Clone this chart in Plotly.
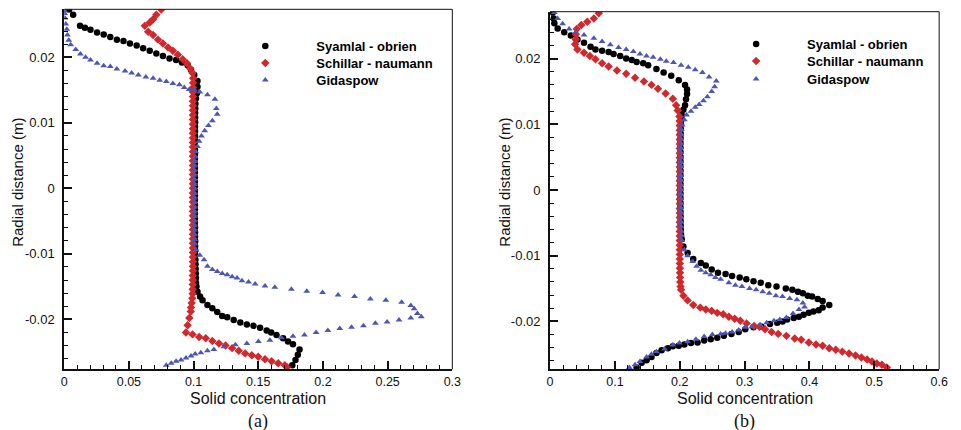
import plotly.graph_objects as go

# ---------------- data: panel (a) ----------------
a_syamlal_x = [0.0038, 0.0069, 0.0122, 0.0160, 0.0203, 0.0254, 0.0305, 0.0356, 0.0407, 0.0458, 0.0508, 0.0560,
               0.0610, 0.0661, 0.0712, 0.0763, 0.0814, 0.0865, 0.0910, 0.0954, 0.0980, 0.1005, 0.1030, 0.1030,
               0.1025, 0.1018,
               0.1014, 0.1013, 0.1012, 0.1012, 0.1012, 0.1011, 0.1011, 0.1011, 0.1010, 0.1010, 0.1010, 0.1010,
               0.1010, 0.1010, 0.1010, 0.1010, 0.1010, 0.1010, 0.1010, 0.1010, 0.1010, 0.1010, 0.1010, 0.1010,
               0.1010, 0.1010, 0.1010, 0.1011, 0.1011, 0.1011, 0.1012, 0.1012, 0.1013, 0.1013, 0.1014, 0.1015,
               0.1016, 0.1017, 0.1018, 0.1019,
               0.1022, 0.1030, 0.1050, 0.1069, 0.1107, 0.1145, 0.1183, 0.1221, 0.1260, 0.1310, 0.1361, 0.1412,
               0.1463, 0.1514, 0.1565, 0.1600, 0.1641, 0.1692, 0.1730, 0.1768, 0.1819, 0.1806, 0.1788, 0.1763]
a_syamlal_y = [0.0273, 0.0265, 0.0248, 0.0245, 0.0242, 0.0238, 0.0235, 0.0231, 0.0227, 0.0225, 0.0221, 0.0218,
               0.0214, 0.0210, 0.0206, 0.0202, 0.0198, 0.0196, 0.0192, 0.0188, 0.0181, 0.0173, 0.0164, 0.0155,
               0.0145, 0.0137,
               0.0129, 0.0122, 0.0115, 0.0108, 0.0101, 0.0094, 0.0087, 0.0080, 0.0073, 0.0066, 0.0059, 0.0052,
               0.0045, 0.0038, 0.0031, 0.0024, 0.0017, 0.0010, 0.0003, -0.0004, -0.0011, -0.0018, -0.0025, -0.0032,
               -0.0039, -0.0046, -0.0053, -0.0060, -0.0067, -0.0074, -0.0081, -0.0088, -0.0095, -0.0102, -0.0109, -0.0116,
               -0.0123, -0.0130, -0.0137, -0.0144,
               -0.0150, -0.0158, -0.0165, -0.0171, -0.0178, -0.0183, -0.0189, -0.0195, -0.0197, -0.0201, -0.0205, -0.0208,
               -0.0210, -0.0213, -0.0217, -0.0220, -0.0224, -0.0229, -0.0234, -0.0238, -0.0246, -0.0254, -0.0262, -0.0270]

a_schillar_x = [0.0750, 0.0712, 0.0687, 0.0661, 0.0623, 0.0649, 0.0687, 0.0725, 0.0763, 0.0802, 0.0840, 0.0878,
                0.0916, 0.0949, 0.0974, 0.0992, 0.0997,
                0.0996, 0.0996, 0.0995, 0.0995, 0.0995, 0.0995, 0.0995, 0.0995, 0.0995, 0.0995, 0.0995, 0.0995,
                0.0995, 0.0995, 0.0995, 0.0995, 0.0995, 0.0995, 0.0995, 0.0995, 0.0995, 0.0995, 0.0995, 0.0995,
                0.0995, 0.0995, 0.0995, 0.0995, 0.0995, 0.0995, 0.0995, 0.0995, 0.0995, 0.0995, 0.0995, 0.0995,
                0.0995, 0.0995, 0.0995, 0.0995, 0.0995, 0.0995, 0.0994, 0.0994, 0.0993, 0.0993, 0.0992,
                0.0990, 0.0985, 0.0980, 0.0978, 0.0967, 0.0954, 0.0941, 0.0992, 0.1043, 0.1094, 0.1145, 0.1196,
                0.1247, 0.1298, 0.1349, 0.1399, 0.1450, 0.1500, 0.1552, 0.1603, 0.1654, 0.1705, 0.1722]
a_schillar_y = [0.0273, 0.0265, 0.0258, 0.0253, 0.0248, 0.0239, 0.0234, 0.0227, 0.0221, 0.0215, 0.0210, 0.0204,
                0.0197, 0.0191, 0.0183, 0.0176, 0.0168,
                0.0161, 0.0154, 0.0147, 0.0140, 0.0133, 0.0126, 0.0119, 0.0112, 0.0105, 0.0098, 0.0091, 0.0084,
                0.0077, 0.0070, 0.0063, 0.0056, 0.0049, 0.0042, 0.0035, 0.0028, 0.0021, 0.0014, 0.0007, 0.0000,
                -0.0007, -0.0014, -0.0021, -0.0028, -0.0035, -0.0042, -0.0049, -0.0056, -0.0063, -0.0070, -0.0077, -0.0084,
                -0.0091, -0.0098, -0.0105, -0.0112, -0.0119, -0.0126, -0.0133, -0.0140, -0.0147, -0.0154, -0.0161,
                -0.0168, -0.0175, -0.0182, -0.0188, -0.0198, -0.0209, -0.0220, -0.0223, -0.0227, -0.0229, -0.0233, -0.0237,
                -0.0240, -0.0244, -0.0248, -0.0252, -0.0255, -0.0257, -0.0261, -0.0264, -0.0267, -0.0270, -0.0273]

a_gidaspow_x = [0.0002, 0.0003, 0.0005, 0.0012, 0.0020, 0.0025, 0.0035, 0.0050, 0.0089, 0.0125, 0.0165, 0.0203,
                0.0254, 0.0305, 0.0356, 0.0407, 0.0470, 0.0521, 0.0573, 0.0631, 0.0687, 0.0738, 0.0789, 0.0840,
                0.0890, 0.0928, 0.0966, 0.1005, 0.1048, 0.1107, 0.1165, 0.1176, 0.1183, 0.1145, 0.1115, 0.1086,
                0.1061, 0.1043, 0.1030, 0.1017, 0.1012,
                0.1008, 0.1006, 0.1005, 0.1005, 0.1005, 0.1005, 0.1005, 0.1005, 0.1005, 0.1005, 0.1005, 0.1005,
                0.1005, 0.1005, 0.1005, 0.1005, 0.1006, 0.1007, 0.1009,
                0.1017, 0.1048, 0.1081, 0.1107, 0.1145, 0.1183, 0.1221, 0.1260, 0.1298, 0.1336, 0.1374, 0.1425,
                0.1476, 0.1552, 0.1628, 0.1756, 0.1875, 0.1997, 0.2117, 0.2244, 0.2366, 0.2486, 0.2608, 0.2679,
                0.2705, 0.2730, 0.2760, 0.2679, 0.2588, 0.2496, 0.2405, 0.2313, 0.2221, 0.2130, 0.2038, 0.1947,
                0.1857, 0.1768, 0.1679, 0.1590, 0.1501, 0.1412, 0.1323, 0.1234, 0.1157, 0.1107, 0.1056, 0.1012,
                0.0980, 0.0941, 0.0903, 0.0865, 0.0827, 0.0789]
a_gidaspow_y = [0.0271, 0.0267, 0.0260, 0.0251, 0.0243, 0.0234, 0.0226, 0.0219, 0.0212, 0.0205, 0.0200, 0.0196,
                0.0191, 0.0187, 0.0186, 0.0182, 0.0179, 0.0176, 0.0173, 0.0170, 0.0168, 0.0165, 0.0163, 0.0160,
                0.0158, 0.0154, 0.0151, 0.0150, 0.0147, 0.0143, 0.0136, 0.0122, 0.0113, 0.0103, 0.0096, 0.0088,
                0.0080, 0.0072, 0.0064, 0.0056, 0.0048,
                0.0041, 0.0034, 0.0027, 0.0020, 0.0013, 0.0006, -0.0001, -0.0008, -0.0015, -0.0022, -0.0029, -0.0036,
                -0.0043, -0.0050, -0.0057, -0.0064, -0.0071, -0.0078, -0.0085,
                -0.0094, -0.0102, -0.0109, -0.0119, -0.0124, -0.0127, -0.0130, -0.0132, -0.0135, -0.0137, -0.0141, -0.0143,
                -0.0146, -0.0149, -0.0151, -0.0154, -0.0157, -0.0159, -0.0163, -0.0165, -0.0169, -0.0171, -0.0174, -0.0179,
                -0.0184, -0.0191, -0.0196, -0.0198, -0.0201, -0.0204, -0.0206, -0.0210, -0.0212, -0.0214, -0.0217, -0.0220,
                -0.0224, -0.0226, -0.0228, -0.0232, -0.0234, -0.0237, -0.0239, -0.0242, -0.0246, -0.0248, -0.0251, -0.0253,
                -0.0256, -0.0259, -0.0262, -0.0264, -0.0267, -0.0270]

# ---------------- data: panel (b) ----------------
b_syamlal_x = [0.0041, 0.0056, 0.0066, 0.0117, 0.0218, 0.0320, 0.0422, 0.0523, 0.0624, 0.0700, 0.0802, 0.0903,
               0.0979, 0.1081, 0.1173, 0.1259, 0.1335, 0.1436, 0.1512, 0.1640, 0.1751, 0.1868, 0.1984, 0.2081,
               0.2112, 0.2112, 0.2096, 0.2081, 0.2056, 0.2030, 0.2025,
               0.2018, 0.2015, 0.2013, 0.2012, 0.2011, 0.2010, 0.2010, 0.2010, 0.2010, 0.2010, 0.2010, 0.2010,
               0.2010, 0.2010, 0.2010, 0.2010, 0.2010, 0.2010, 0.2010, 0.2011, 0.2012, 0.2013, 0.2014, 0.2016,
               0.2020, 0.2030,
               0.2056, 0.2121, 0.2208, 0.2325, 0.2401, 0.2492, 0.2589, 0.2706, 0.2807, 0.2924, 0.3026, 0.3137,
               0.3249, 0.3365, 0.3492, 0.3635, 0.3736, 0.3822, 0.3898, 0.3974, 0.4040, 0.4127, 0.4203, 0.4305,
               0.4203, 0.4142, 0.4061, 0.3990, 0.3909, 0.3837, 0.3757, 0.3655, 0.3584, 0.3503, 0.3391, 0.3263,
               0.3137, 0.3010, 0.2909, 0.2797, 0.2680, 0.2578, 0.2477, 0.2376, 0.2274, 0.2173, 0.2071, 0.1984,
               0.1893, 0.1817, 0.1720, 0.1640, 0.1564, 0.1488, 0.1412, 0.1335]
b_syamlal_y = [0.0270, 0.0261, 0.0254, 0.0246, 0.0240, 0.0235, 0.0229, 0.0224, 0.0218, 0.0214, 0.0212, 0.0210,
               0.0207, 0.0204, 0.0200, 0.0198, 0.0195, 0.0193, 0.0190, 0.0184, 0.0179, 0.0174, 0.0167, 0.0160,
               0.0153, 0.0146, 0.0138, 0.0129, 0.0122, 0.0114, 0.0107,
               0.0100, 0.0093, 0.0086, 0.0079, 0.0072, 0.0065, 0.0058, 0.0051, 0.0044, 0.0037, 0.0030, 0.0023,
               0.0016, 0.0009, 0.0002, -0.0005, -0.0012, -0.0019, -0.0026, -0.0033, -0.0040, -0.0047, -0.0054, -0.0061,
               -0.0068, -0.0075,
               -0.0086, -0.0096, -0.0105, -0.0111, -0.0115, -0.0121, -0.0126, -0.0128, -0.0131, -0.0133, -0.0136, -0.0139,
               -0.0141, -0.0145, -0.0147, -0.0150, -0.0152, -0.0155, -0.0157, -0.0161, -0.0162, -0.0166, -0.0169, -0.0175,
               -0.0179, -0.0183, -0.0185, -0.0187, -0.0190, -0.0193, -0.0195, -0.0197, -0.0200, -0.0202, -0.0204, -0.0208,
               -0.0209, -0.0212, -0.0216, -0.0219, -0.0222, -0.0225, -0.0227, -0.0229, -0.0232, -0.0233, -0.0235, -0.0237,
               -0.0238, -0.0241, -0.0244, -0.0248, -0.0254, -0.0259, -0.0263, -0.0270]

b_schillar_x = [0.0751, 0.0675, 0.0574, 0.0482, 0.0411, 0.0396, 0.0396, 0.0386, 0.0422, 0.0523, 0.0614, 0.0700,
                0.0802, 0.0903, 0.1031, 0.1173, 0.1310, 0.1447, 0.1564, 0.1664, 0.1782, 0.1893, 0.1944, 0.1969,
                0.1995,
                0.1998, 0.1999, 0.2000, 0.2000, 0.2000, 0.2000, 0.2000, 0.2000, 0.2000, 0.2000, 0.2000, 0.2000,
                0.2000, 0.2000, 0.2000, 0.2000, 0.2000, 0.2000, 0.2000, 0.2000, 0.2000, 0.2000, 0.2000, 0.2000,
                0.2000, 0.2000, 0.2000, 0.2000, 0.2000, 0.2000, 0.2000, 0.2001, 0.2002, 0.2003, 0.2005, 0.2008,
                0.2012,
                0.2020, 0.2056, 0.2121, 0.2208, 0.2315, 0.2401, 0.2492, 0.2578, 0.2669, 0.2756, 0.2847, 0.2934,
                0.3030, 0.3147, 0.3228, 0.3315, 0.3416, 0.3518, 0.3644, 0.3772, 0.3873, 0.3990, 0.4101, 0.4203,
                0.4305, 0.4406, 0.4507, 0.4610, 0.4710, 0.4801, 0.4888, 0.4964, 0.5040, 0.5117, 0.5193]
b_schillar_y = [0.0269, 0.0261, 0.0256, 0.0251, 0.0245, 0.0237, 0.0229, 0.0222, 0.0214, 0.0209, 0.0204, 0.0199,
                0.0193, 0.0188, 0.0182, 0.0177, 0.0171, 0.0165, 0.0160, 0.0154, 0.0147, 0.0139, 0.0129, 0.0121,
                0.0112,
                0.0105, 0.0098, 0.0091, 0.0084, 0.0077, 0.0070, 0.0063, 0.0056, 0.0049, 0.0042, 0.0035, 0.0028,
                0.0021, 0.0014, 0.0007, 0.0000, -0.0007, -0.0014, -0.0021, -0.0028, -0.0035, -0.0042, -0.0049, -0.0056,
                -0.0063, -0.0070, -0.0077, -0.0084, -0.0091, -0.0098, -0.0105, -0.0112, -0.0119, -0.0126, -0.0133, -0.0140,
                -0.0147,
                -0.0152, -0.0161, -0.0168, -0.0175, -0.0179, -0.0182, -0.0184, -0.0187, -0.0189, -0.0193, -0.0196, -0.0199,
                -0.0203, -0.0207, -0.0208, -0.0212, -0.0216, -0.0219, -0.0222, -0.0226, -0.0228, -0.0232, -0.0235, -0.0237,
                -0.0241, -0.0243, -0.0246, -0.0249, -0.0252, -0.0255, -0.0258, -0.0261, -0.0264, -0.0266, -0.0270]

b_gidaspow_x = [0.0066, 0.0117, 0.0193, 0.0294, 0.0396, 0.0523, 0.0675, 0.0802, 0.0929, 0.1056, 0.1173, 0.1284,
                0.1386, 0.1487, 0.1589, 0.1700, 0.1792, 0.1903, 0.2020, 0.2132, 0.2238, 0.2350, 0.2452, 0.2563,
                0.2538, 0.2492, 0.2426, 0.2365, 0.2299, 0.2238, 0.2173, 0.2106, 0.2071, 0.2036,
                0.2025, 0.2020, 0.2018, 0.2016, 0.2015, 0.2015, 0.2015, 0.2015, 0.2015, 0.2015, 0.2015, 0.2015,
                0.2015, 0.2015, 0.2015, 0.2015, 0.2015, 0.2015, 0.2015, 0.2016, 0.2017, 0.2018, 0.2020, 0.2024,
                0.2030,
                0.2071, 0.2121, 0.2198, 0.2260, 0.2325, 0.2400, 0.2477, 0.2550, 0.2630, 0.2756, 0.2858, 0.2959,
                0.3076, 0.3178, 0.3279, 0.3380, 0.3482, 0.3584, 0.3695, 0.3807, 0.3898, 0.3924, 0.3837, 0.3746,
                0.3644, 0.3543, 0.3452, 0.3340, 0.3239, 0.3111, 0.3010, 0.2909, 0.2807, 0.2706, 0.2630, 0.2502,
                0.2376, 0.2249, 0.2121, 0.1995, 0.1893, 0.1766, 0.1640, 0.1564, 0.1488, 0.1386, 0.1310, 0.1223]
b_gidaspow_y = [0.0270, 0.0261, 0.0253, 0.0245, 0.0240, 0.0236, 0.0231, 0.0226, 0.0221, 0.0217, 0.0214, 0.0211,
                0.0207, 0.0204, 0.0202, 0.0199, 0.0196, 0.0194, 0.0190, 0.0187, 0.0183, 0.0179, 0.0172, 0.0166,
                0.0157, 0.0150, 0.0142, 0.0136, 0.0130, 0.0126, 0.0120, 0.0114, 0.0107, 0.0099,
                0.0092, 0.0085, 0.0078, 0.0071, 0.0064, 0.0057, 0.0050, 0.0043, 0.0036, 0.0029, 0.0022, 0.0015,
                0.0008, 0.0001, -0.0006, -0.0013, -0.0020, -0.0027, -0.0034, -0.0041, -0.0048, -0.0055, -0.0062, -0.0069,
                -0.0076,
                -0.0091, -0.0100, -0.0109, -0.0116, -0.0122, -0.0126, -0.0129, -0.0133, -0.0136, -0.0141, -0.0145, -0.0147,
                -0.0150, -0.0152, -0.0155, -0.0157, -0.0161, -0.0162, -0.0165, -0.0167, -0.0172, -0.0178, -0.0182, -0.0188,
                -0.0194, -0.0197, -0.0199, -0.0202, -0.0205, -0.0208, -0.0209, -0.0213, -0.0216, -0.0218, -0.0219, -0.0220,
                -0.0223, -0.0227, -0.0231, -0.0233, -0.0236, -0.0242, -0.0246, -0.0250, -0.0254, -0.0261, -0.0266, -0.0270]

series_names = ["Syamlal - obrien", "Schillar - naumann", "Gidaspow"]

# ticks
a_xtick_vals = [0, 0.05, 0.1, 0.15, 0.2, 0.25, 0.3]
a_xtick_text = ["0", "0.05", "0.1", "0.15", "0.2", "0.25", "0.3"]
b_xtick_vals = [0, 0.1, 0.2, 0.3, 0.4, 0.5, 0.6]
b_xtick_text = ["0", "0.1", "0.2", "0.3", "0.4", "0.5", "0.6"]
ytick_vals = [0.02, 0.01, 0, -0.01, -0.02]
ytick_text = ["0.02", "0.01", "0", "-0.01", "-0.02"]

# ---------------- styling ----------------
W, H = 961, 430
colors = ["#000000", "#d0282c", "#4c56b4"]
symbols = ["circle", "diamond", "triangle-up"]
sizes = [6.5, 6.5, 6]
FONT = "Liberation Sans, Arial, sans-serif"

def px_x(p):
    return p / W

def px_y(p):
    return 1 - p / H

fig = go.Figure()

panel_a = [(a_syamlal_x, a_syamlal_y), (a_schillar_x, a_schillar_y), (a_gidaspow_x, a_gidaspow_y)]
panel_b = [(b_syamlal_x, b_syamlal_y), (b_schillar_x, b_schillar_y), (b_gidaspow_x, b_gidaspow_y)]

legend_ids = ["legend", "legend2", "legend3", "legend4", "legend5", "legend6"]

for i, (xs, ys) in enumerate(panel_a):
    fig.add_trace(go.Scatter(x=xs, y=ys, mode="markers", name=series_names[i],
                             marker=dict(color=colors[i], symbol=symbols[i], size=sizes[i], line=dict(width=0)),
                             xaxis="x", yaxis="y", legend=legend_ids[i]))
for i, (xs, ys) in enumerate(panel_b):
    fig.add_trace(go.Scatter(x=xs, y=ys, mode="markers", name=series_names[i],
                             marker=dict(color=colors[i], symbol=symbols[i], size=sizes[i], line=dict(width=0)),
                             xaxis="x2", yaxis="y2", legend=legend_ids[3 + i]))

def xaxis(domain, rng, vals, text, minor_dtick, anchor):
    return dict(domain=domain, range=rng, anchor=anchor, tickvals=vals, ticktext=text,
                ticks="inside", ticklen=8, tickwidth=1.5, tickcolor="#111",
                minor=dict(ticks="inside", ticklen=4, tickwidth=1, tickcolor="#111", dtick=minor_dtick, tick0=0),
                showline=True, linewidth=2, linecolor="#111", showgrid=False, zeroline=False,
                tickfont=dict(family=FONT, size=12.5, color="#111"))

def yaxis(domain, rng, anchor):
    return dict(domain=domain, range=rng, anchor=anchor, tickvals=ytick_vals, ticktext=ytick_text,
                ticks="inside", ticklen=8, tickwidth=1.5, tickcolor="#111",
                minor=dict(ticks="inside", ticklen=4, tickwidth=1, tickcolor="#111", dtick=0.002, tick0=0),
                showline=True, linewidth=2, linecolor="#111", showgrid=False, zeroline=False,
                tickfont=dict(family=FONT, size=13, color="#111"), ticklabelstandoff=5)

ax_a = [px_x(62), px_x(455)]
ax_b = [px_x(554), px_x(948)]
ay_a = [px_y(369.3), px_y(9.3)]
ay_b = [px_y(369.3), px_y(11.7)]

legend_style = dict(font=dict(family=FONT, size=13, color="#000", weight="bold"),
                    bgcolor="rgba(0,0,0,0)", borderwidth=0, itemwidth=92,
                    xanchor="left", yanchor="middle", tracegroupgap=0)

# legend row centres (pixels)
legend_rows_a = [46, 63, 80]
legend_rows_b = [44, 61, 79]
legend_layout = {}
for i in range(3):
    legend_layout[legend_ids[i]] = dict(x=px_x(214), y=px_y(legend_rows_a[i]), **legend_style)
    legend_layout[legend_ids[3 + i]] = dict(x=px_x(711), y=px_y(legend_rows_b[i]), **legend_style)

fig.update_layout(
    width=W, height=H,
    margin=dict(l=0, r=0, t=0, b=0),
    paper_bgcolor="white", plot_bgcolor="white",
    xaxis=xaxis(ax_a, [0, 0.3], a_xtick_vals, a_xtick_text, 0.01, "y"),
    yaxis=yaxis(ay_a, [-0.02763, 0.02733], "x"),
    xaxis2=xaxis(ax_b, [0, 0.6], b_xtick_vals, b_xtick_text, 0.02, "y2"),
    yaxis2=yaxis(ay_b, [-0.02729, 0.02714], "x2"),
    showlegend=True,
    **legend_layout,
)

# top/right frame lines
for xr, yr in [("x domain", "y domain"), ("x2 domain", "y2 domain")]:
    fig.add_shape(type="line", xref=xr, yref=yr, x0=0, x1=1, y0=1, y1=1, line=dict(color="#111", width=1))
    fig.add_shape(type="line", xref=xr, yref=yr, x0=1, x1=1, y0=0, y1=1, line=dict(color="#111", width=1))

# titles
ann = []
for cx in [258.5, 751]:
    ann.append(dict(text="Solid concentration", x=px_x(cx), y=px_y(398), xref="paper", yref="paper",
                    showarrow=False, font=dict(family=FONT, size=16, color="#111"), xanchor="center", yanchor="middle"))
ann.append(dict(text="(a)", x=px_x(258.5), y=px_y(421), xref="paper", yref="paper", showarrow=False,
                font=dict(family="Liberation Serif, Times New Roman, serif", size=18, color="#111"),
                xanchor="center", yanchor="middle"))
ann.append(dict(text="(b)", x=px_x(751), y=px_y(421), xref="paper", yref="paper", showarrow=False,
                font=dict(family="Liberation Serif, Times New Roman, serif", size=18, color="#111"),
                xanchor="center", yanchor="middle"))
for cx in [15, 508]:
    ann.append(dict(text="Radial distance (m)", x=px_x(cx), y=px_y(182), xref="paper", yref="paper",
                    showarrow=False, textangle=-90, font=dict(family=FONT, size=15, color="#111"),
                    xanchor="center", yanchor="middle"))
fig.update_layout(annotations=ann)

fig.write_html("out.html")
